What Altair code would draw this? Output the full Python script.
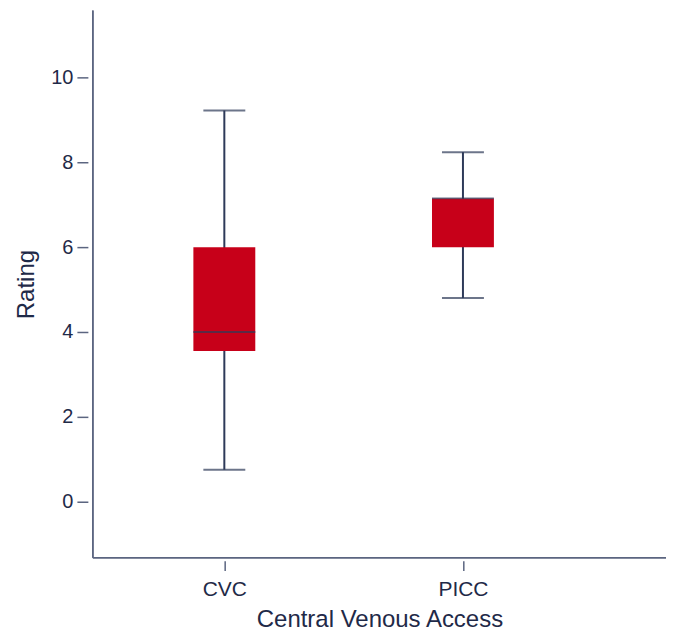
import altair as alt
import pandas as pd

categories = ["CVC", "PICC"]
lower = [0.75, 4.8]
q1 = [3.55, 6.0]
median = [4.0, 7.15]
q3 = [6.0, 7.15]
upper = [9.22, 8.24]

df = pd.DataFrame({
    "cat": categories,
    "pos": list(range(len(categories))),
    "lower": lower, "q1": q1, "median": median, "q3": q3, "upper": upper,
})

W, H = 574, 548
TEXT = "#1F2A48"
AXIS = "#5B6580"
LINE = "#2E3A59"
RED = "#C70019"
FONT = "Liberation Sans"

label_expr = " : ".join(
    [f"datum.value == {i} ? '{c}'" for i, c in enumerate(categories[:-1])]
) + f" : '{categories[-1]}'"

xenc = alt.X(
    "pos:Q",
    scale=alt.Scale(domain=[-0.53, 1.83], nice=False, zero=False),
    axis=alt.Axis(
        title="Central Venous Access", values=list(range(len(categories))),
        labelExpr=label_expr, domain=False, grid=False, offset=3,
        tickSize=10, tickColor=AXIS, tickWidth=1.5,
        labelFontSize=21, labelColor=TEXT, labelFont=FONT, labelPadding=8,
        titleFontSize=24, titleColor=TEXT, titleFont=FONT, titleFontWeight="normal",
        titlePadding=8,
    ),
)
yscale = alt.Scale(domain=[-1.32, 11.58], nice=False, zero=False)
yaxis = alt.Axis(
    title="Rating", values=[0, 2, 4, 6, 8, 10], domain=False, grid=False, offset=5,
    tickSize=11, tickColor=AXIS, tickWidth=1.5,
    labelFontSize=20, labelColor=TEXT, labelFont=FONT, labelPadding=4,
    titleFontSize=24, titleColor=TEXT, titleFont=FONT, titleFontWeight="normal",
    titlePadding=12,
)

base = alt.Chart(df)

whisker = base.mark_rule(color=LINE, strokeWidth=2).encode(
    x=xenc, y=alt.Y("lower:Q", scale=yscale, axis=yaxis), y2="upper:Q"
)
box = base.mark_bar(color=RED, size=62).encode(
    x="pos:Q", y="q1:Q", y2="q3:Q"
)
med = base.mark_tick(color=LINE, orient="horizontal", size=62, thickness=2).encode(
    x="pos:Q", y="median:Q"
)
cap_lo = base.mark_tick(color=LINE, orient="horizontal", size=42, thickness=2).encode(
    x="pos:Q", y="lower:Q"
)
cap_hi = base.mark_tick(color=LINE, orient="horizontal", size=42, thickness=2).encode(
    x="pos:Q", y="upper:Q"
)
yline = alt.Chart(df).mark_rule(color=AXIS, strokeWidth=1.5).encode(
    x=alt.value(0), y=alt.value(0), y2=alt.value(H)
)
xline = alt.Chart(df).mark_rule(color=AXIS, strokeWidth=1.5).encode(
    x=alt.value(0), x2=alt.value(W), y=alt.value(H)
)

chart = alt.layer(whisker, box, med, cap_lo, cap_hi, yline, xline).properties(
    width=W, height=H,
    padding={"left": 85, "top": 2, "right": 0, "bottom": 76},
    autosize=alt.AutoSizeParams(type="none"),
).configure_view(stroke=None)

chart.save("out.html", embed_options={"renderer": "svg", "actions": False})
